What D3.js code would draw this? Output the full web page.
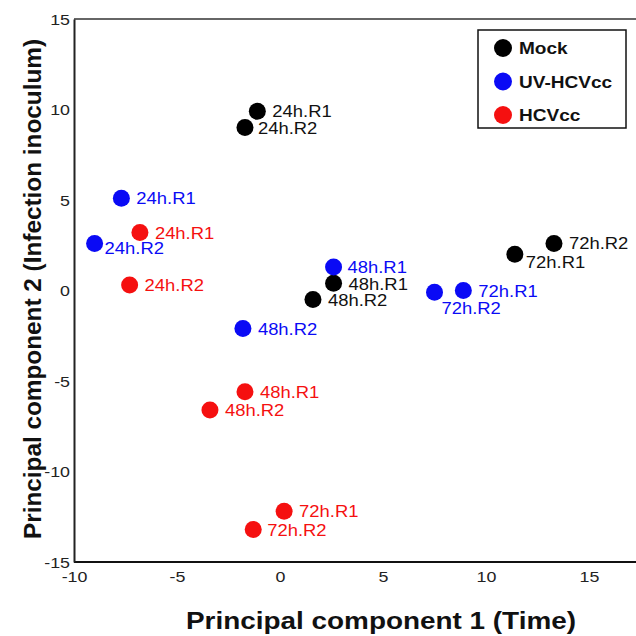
<!DOCTYPE html>
<meta charset="utf-8">
<style>
    body { margin: 0; background: #fff; }
    .tick text { font: 15.5px "Liberation Sans", Arial, sans-serif; fill: #222; }
    .lbl { font: 16px "Liberation Sans", Arial, sans-serif; }
    .title { font: bold 23px "Liberation Sans", Arial, sans-serif; fill: #111; }
    .legend text { font: bold 17px "Liberation Sans", Arial, sans-serif; fill: #111; }
</style>
<svg id="chart" width="636" height="636"></svg>
<script src="https://cdn.jsdelivr.net/npm/d3@7"></script>
<script>

    // groups and colours
    var groups = ["Mock", "UV-HCVcc", "HCVcc"];
    var groupColors = ["#000000", "#0a0af5", "#f51010"];

    // sample names (same order in every group)
    var samples = ["24h.R1", "24h.R2", "48h.R1", "48h.R2", "72h.R1", "72h.R2"];

    // PC1 / PC2 values
    var mockPC1 = [-1.1, -1.7, 2.6, 1.6, 11.4, 13.3];
    var mockPC2 = [9.9, 9.0, 0.4, -0.5, 2.0, 2.6];
    var uvPC1 = [-7.7, -9.0, 2.6, -1.8, 8.9, 7.5];
    var uvPC2 = [5.1, 2.6, 1.3, -2.1, 0.0, -0.1];
    var hcvPC1 = [-6.8, -7.3, -1.7, -3.4, 0.2, -1.3];
    var hcvPC2 = [3.2, 0.3, -5.6, -6.6, -12.2, -13.2];

    var xTicks = [-10, -5, 0, 5, 10, 15];
    var yTicks = [-15, -10, -5, 0, 5, 10, 15];

    var series = [[mockPC1, mockPC2], [uvPC1, uvPC2], [hcvPC1, hcvPC2]];
    var points = [];
    series.forEach(function(s, gi) {
        samples.forEach(function(name, i) {
            points.push({group: gi, name: name, x: s[0][i], y: s[1][i]});
        });
    });

    // label placement (pixel offsets from the dot), default right of dot
    var labelPlace = {
        "0-24h.R2": [13, 6],
        "0-72h.R1": [11, 14],
        "1-24h.R2": [10, 11],
        "1-72h.R2": [7, 22],
        "1-48h.R1": [14, 6],
        "0-48h.R1": [15, 7],
        "2-72h.R2": [14, 7]
    };

    // the figure's lettering is a bit wider than Arial
    function widen(sel, k) {
        sel.each(function() {
            var w = this.getComputedTextLength();
            d3.select(this).attr("textLength", w * k).attr("lengthAdjust", "spacingAndGlyphs");
        });
    }

    var svg = d3.select("#chart");
    var pLeft = 74, pTop = 19, pBottom = 562;

    var x = d3.scaleLinear().domain([-10, 17.5]).range([pLeft, pLeft + 20.6 * 27.5]);
    var y = d3.scaleLinear().domain([-15, 15]).range([pBottom, pTop]);

    // frame top line
    svg.append("line")
        .attr("x1", pLeft).attr("x2", 636)
        .attr("y1", pTop).attr("y2", pTop)
        .attr("stroke", "#666").attr("stroke-width", 2);

    var plain = function(d) { return String(d); };
    var xAxis = d3.axisBottom(x).tickValues(xTicks).tickFormat(plain).tickSize(0).tickPadding(9);
    var yAxis = d3.axisLeft(y).tickValues(yTicks).tickFormat(plain).tickSize(0).tickPadding(4);

    var gX = svg.append("g")
        .attr("transform", "translate(0," + pBottom + ")")
        .call(xAxis);
    gX.select(".domain").attr("stroke", "#111").attr("stroke-width", 2)
        .attr("d", "M" + pLeft + ",0H636");
    gX.selectAll(".tick text").call(widen, 1.15);

    var gY = svg.append("g")
        .attr("transform", "translate(" + pLeft + ",0)")
        .call(yAxis);
    gY.select(".domain").attr("stroke", "#222").attr("stroke-width", 2);
    gY.selectAll(".tick text").attr("dy", "0.35em").call(widen, 1.15);

    // dots
    svg.append("g").selectAll("circle")
        .data(points)
        .enter().append("circle")
        .attr("cx", function(d) { return x(d.x); })
        .attr("cy", function(d) { return y(d.y); })
        .attr("r", 8.5)
        .attr("fill", function(d) { return groupColors[d.group]; });

    // labels
    svg.append("g").selectAll("text")
        .data(points)
        .enter().append("text")
        .attr("class", "lbl")
        .attr("x", function(d) {
            var o = labelPlace[d.group + "-" + d.name] || [15, 6];
            return x(d.x) + o[0];
        })
        .attr("y", function(d) {
            var o = labelPlace[d.group + "-" + d.name] || [15, 6];
            return y(d.y) + o[1];
        })
        .attr("fill", function(d) { return d.group == 0 ? "#111" : groupColors[d.group]; })
        .text(function(d) { return d.name; })
        .call(widen, 1.15);

    // legend
    var legend = svg.append("g").attr("class", "legend");
    legend.append("rect")
        .attr("x", 478).attr("y", 30)
        .attr("width", 148).attr("height", 98)
        .attr("fill", "#fff").attr("stroke", "#111").attr("stroke-width", 1.5);
    groups.forEach(function(g, i) {
        legend.append("circle")
            .attr("cx", 503).attr("cy", 48 + i * 33.5)
            .attr("r", 9)
            .attr("fill", groupColors[i]);
        legend.append("text")
            .attr("x", 519).attr("y", 48 + i * 33.5 + 6)
            .text(g)
            .call(widen, 1.12);
    });

    // axis titles
    svg.append("text")
        .attr("class", "title")
        .attr("x", 381).attr("y", 629)
        .attr("text-anchor", "middle")
        .attr("textLength", 390).attr("lengthAdjust", "spacingAndGlyphs")
        .text("Principal component 1 (Time)");

    svg.append("text")
        .attr("class", "title")
        .attr("transform", "translate(41,289) rotate(-90)")
        .attr("text-anchor", "middle")
        .attr("textLength", 500).attr("lengthAdjust", "spacingAndGlyphs")
        .text("Principal component 2 (Infection inoculum)");

</script>
